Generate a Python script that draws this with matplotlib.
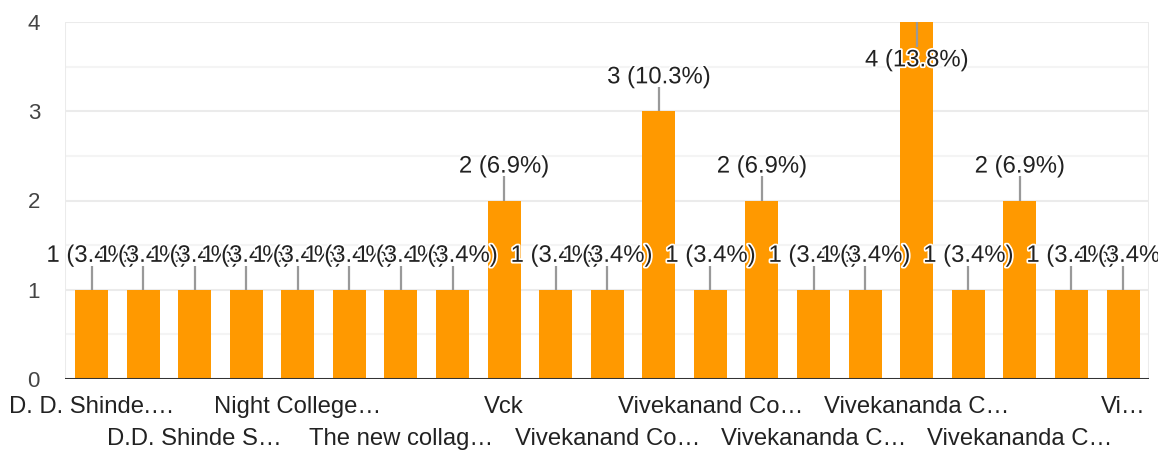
import matplotlib
matplotlib.use("Agg")
import matplotlib.pyplot as plt
import matplotlib.patheffects as pe
import numpy as np

plt.rcParams['font.family'] = ['Liberation Sans', 'DejaVu Sans']

# responses per college (29 in total)
counts = [1, 1, 1, 1, 1, 1, 1, 1, 2, 1, 1, 3, 1, 2, 1, 1, 4, 1, 2, 1, 1]
# only every second label is drawn, alternating rows
tick_labels = ["D. D. Shinde.…", "", "D.D. Shinde S…", "", "Night College…", "",
               "The new collag…", "", "Vck", "", "Vivekanand Co…", "",
               "Vivekanand Co…", "", "Vivekananda C…", "", "Vivekananda C…", "",
               "Vivekananda C…", "", "Vi…"]
yticks = [0, 1, 2, 3, 4]

BAR = '#ff9900'
total = sum(counts)
x = np.arange(len(counts))

fig = plt.figure(figsize=(11.58, 4.5), dpi=100)
ax = fig.add_axes([65 / 1158, 71 / 450, 1084 / 1158, 357 / 450])
ax.set_xlim(-0.514, 20.504)
ax.set_ylim(0, 4)

# grid: integer lines + lighter half steps
for y in np.arange(0.5, 4.01, 0.5):
    c = '#ebebeb' if y == int(y) else '#f4f4f4'
    ax.axhline(y, color=c, lw=1.5, zorder=0)
for s in ['top', 'right', 'left', 'bottom']:
    ax.spines[s].set_visible(False)
ax.axvline(-0.514, color='#ebebeb', lw=1.5, zorder=0)
ax.axvline(20.504, color='#ebebeb', lw=1.5, zorder=0)

ax.bar(x, counts, width=0.64, color=BAR, zorder=2)
ax.axhline(0, color='#333333', lw=2.2, zorder=3)

halo = [pe.withStroke(linewidth=2.5, foreground='white')]
for i, v in enumerate(counts):
    lbl = f"{v} ({v / total * 100:.1f}%)"
    if v == 4:
        ax.vlines(i, 4 - 0.28, 4, color='#999999', lw=1.6, zorder=4, clip_on=False)
        ty = 4 - 0.43
    else:
        ax.vlines(i, v, v + 0.27, color='#999999', lw=1.6, zorder=4)
        ty = v + 0.38
    ax.text(i, ty, lbl, ha='center', va='center', fontsize=17.2, color='#222222',
            path_effects=halo, zorder=5)

ax.set_yticks(yticks)
ax.set_yticklabels([str(t) for t in yticks])
ax.tick_params(axis='y', length=0, pad=18, labelsize=16, labelcolor='#444444')
ax.set_xticks([])

row = 0
for i, lab in enumerate(tick_labels):
    if not lab:
        continue
    off = -20.5 if row % 2 == 0 else -43.5
    ax.annotate(lab, xy=(i, 0), xycoords=('data', 'axes fraction'),
                xytext=(0, off), textcoords='offset points',
                ha='center', va='center', fontsize=17.2, color='#222222',
                annotation_clip=False)
    row += 1

fig.savefig('out.png', dpi=100)
